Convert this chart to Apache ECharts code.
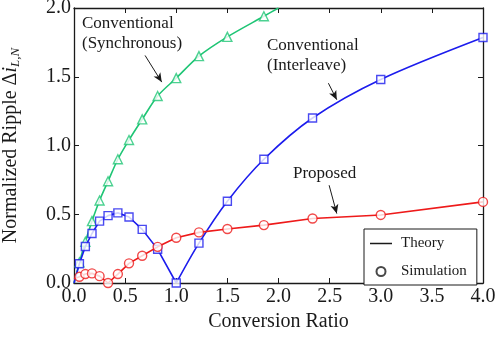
<!DOCTYPE html>
<html>
<head>
<meta charset="utf-8">
<script src="https://cdn.jsdelivr.net/npm/echarts@6/dist/echarts.min.js"></script>
<style>
  html, body { margin: 0; padding: 0; background: #fff; }
  #chart { width: 495px; height: 340px; }
</style>
</head>
<body>
<div id="chart"></div>
<script>
// conversion ratio of each simulated point
const ratio = [0.053, 0.111, 0.176, 0.25, 0.333, 0.429, 0.538, 0.667, 0.818, 1.0, 1.222, 1.5, 1.857, 2.333, 3.0, 4.0]
// simulation results (normalized ripple)
const syncSim = [0.15, 0.30, 0.45, 0.60, 0.74, 0.90, 1.04, 1.19, 1.36, 1.49, 1.65, 1.79, 1.94]
const interSim = [0.14, 0.265, 0.36, 0.45, 0.49, 0.51, 0.48, 0.39, 0.245, 0.0, 0.29, 0.595, 0.90, 1.20, 1.48, 1.785]
const propSim = [0.045, 0.065, 0.07, 0.05, 0.0, 0.065, 0.143, 0.198, 0.263, 0.329, 0.368, 0.393, 0.421, 0.469, 0.495, 0.59]
// theory curve ends
const syncStart = [0, 0]
const syncEnd = [2.0, 2.0]
const interStart = [0, 0]
const propStart = [0, 0.03]
const xTicks = ['0.0', '0.5', '1.0', '1.5', '2.0', '2.5', '3.0', '3.5', '4.0']
const yTicks = ['0.0', '0.5', '1.0', '1.5', '2.0']

const FONT = '"Liberation Serif", "Times New Roman", serif'
const GREEN = '#1fc575'
const BLUE = '#1c1ced'
const RED = '#ee1a1a'
const INK = '#1a1a1a'

const pairs = (xs, ys) => ys.map((y, i) => [xs[i], y])

const syncTheory = [syncStart].concat(pairs(ratio, syncSim), [syncEnd])
const interPts = pairs(ratio, interSim)
const interLow = [interStart].concat(interPts.slice(0, 10))
const interHigh = interPts.slice(9)
const propTheory = [propStart].concat(pairs(ratio, propSim))

const chart = echarts.init(document.getElementById('chart'))

const frameAxis = {
  min: 0,
  axisLine: { show: true, onZero: false, lineStyle: { color: INK, width: 1.3 } },
  axisTick: { show: true, inside: true, length: 5, lineStyle: { color: INK, width: 1 } },
  splitLine: { show: false }
}

const arrow = (from, to) => [{ coord: from }, { coord: to }]

chart.setOption({
  animation: false,
  textStyle: { fontFamily: FONT },
  grid: { left: 74, right: 12, top: 8, bottom: 57, containLabel: false, outerBoundsMode: 'none' },
  xAxis: [
    Object.assign({}, frameAxis, {
      type: 'value', position: 'bottom', max: 4, interval: 0.5,
      name: 'Conversion Ratio', nameLocation: 'middle', nameGap: 26,
      nameTextStyle: { fontFamily: FONT, fontSize: 20, color: INK },
      axisLabel: {
        margin: 4, fontFamily: FONT, fontSize: 20, color: INK,
        formatter: (v) => xTicks[Math.round(v / 0.5)]
      }
    }),
    Object.assign({}, frameAxis, {
      type: 'value', position: 'top', max: 4, interval: 0.5,
      axisLabel: { show: false }
    })
  ],
  yAxis: [
    Object.assign({}, frameAxis, {
      type: 'value', position: 'left', max: 2, interval: 0.5,
      name: '{t|Normalized Ripple Δ}{i|i}{s|L,N}', nameLocation: 'middle', nameGap: 52,
      nameTextStyle: {
        fontFamily: FONT, fontSize: 20, color: INK,
        rich: {
          t: { fontFamily: FONT, fontSize: 20, color: INK, lineHeight: 22 },
          i: { fontFamily: FONT, fontSize: 20, color: INK, fontStyle: 'italic', lineHeight: 22 },
          s: { fontFamily: FONT, fontSize: 13, color: INK, fontStyle: 'italic', lineHeight: 22, verticalAlign: 'bottom', padding: [9, 0, 0, 0] }
        }
      },
      axisLabel: {
        margin: 3, fontFamily: FONT, fontSize: 20, color: INK,
        formatter: (v) => yTicks[Math.round(v / 0.5)]
      }
    }),
    Object.assign({}, frameAxis, {
      type: 'value', position: 'right', max: 2, interval: 0.5,
      axisLabel: { show: false }
    })
  ],
  legend: {
    left: 364, top: 229, orient: 'vertical',
    padding: [7, 10, 6, 6],
    itemWidth: 22, itemHeight: 9, itemGap: 13,
    borderColor: INK, borderWidth: 1, borderRadius: 0,
    backgroundColor: '#fff',
    textStyle: { fontFamily: FONT, fontSize: 15, color: INK, padding: [0, 0, 0, 4] },
    data: [
      { name: 'Theory', icon: 'path://M0,0 L22,0 L22,1.5 L0,1.5 Z', itemStyle: { color: INK, borderWidth: 0 } },
      { name: 'Simulation', icon: 'emptyCircle', itemStyle: { color: INK, borderColor: INK, borderWidth: 1.6 } }
    ]
  },
  series: [
    {
      name: 'Theory', type: 'line', data: [], symbol: 'none',
      lineStyle: { color: INK, width: 1.5 }, itemStyle: { color: INK }
    },
    {
      name: 'Simulation', type: 'scatter', data: [], symbol: 'emptyCircle',
      itemStyle: { color: INK, borderColor: INK, borderWidth: 1.6 }
    },
    {
      type: 'line', data: syncTheory, smooth: 0.3, symbol: 'none',
      lineStyle: { color: GREEN, width: 1.6 }, z: 2,
      markLine: {
        silent: true, symbol: ['none', 'arrow'], symbolSize: [6, 9],
        label: { show: false },
        lineStyle: { color: INK, width: 1, type: 'solid' },
        data: [
          arrow([0.695, 1.655], [0.858, 1.461]),
          arrow([2.488, 1.453], [2.570, 1.333]),
          arrow([2.495, 0.711], [2.570, 0.505])
        ]
      }
    },
    {
      type: 'scatter', data: pairs(ratio, syncSim), symbol: 'triangle', symbolSize: 9,
      itemStyle: { color: '#fff', borderColor: GREEN, borderWidth: 1.4 }, z: 3
    },
    {
      type: 'line', data: interLow, symbol: 'none',
      lineStyle: { color: BLUE, width: 1.6 }, z: 4
    },
    {
      type: 'line', data: interHigh, smooth: 0.3, symbol: 'none',
      lineStyle: { color: BLUE, width: 1.6 }, z: 4
    },
    {
      type: 'scatter', data: interPts, symbol: 'rect', symbolSize: 8,
      itemStyle: { color: '#fff', borderColor: BLUE, borderWidth: 1.4 }, z: 5
    },
    {
      type: 'line', data: propTheory, symbol: 'none',
      lineStyle: { color: RED, width: 1.6 }, z: 6
    },
    {
      type: 'scatter', data: pairs(ratio, propSim), symbol: 'circle', symbolSize: 9,
      itemStyle: { color: '#fff', borderColor: RED, borderWidth: 1.4 }, z: 7
    }
  ],
  graphic: [
    { type: 'text', left: 82, top: 15, style: { text: 'Conventional', font: '17px ' + FONT, fill: INK } },
    { type: 'text', left: 82, top: 35, style: { text: '(Synchronous)', font: '17px ' + FONT, fill: INK } },
    { type: 'text', left: 267, top: 37, style: { text: 'Conventional', font: '17px ' + FONT, fill: INK } },
    { type: 'text', left: 267, top: 57, style: { text: '(Interleave)', font: '17px ' + FONT, fill: INK } },
    { type: 'text', left: 293, top: 165, style: { text: 'Proposed', font: '17px ' + FONT, fill: INK } }
  ]
})
</script>
</body>
</html>
